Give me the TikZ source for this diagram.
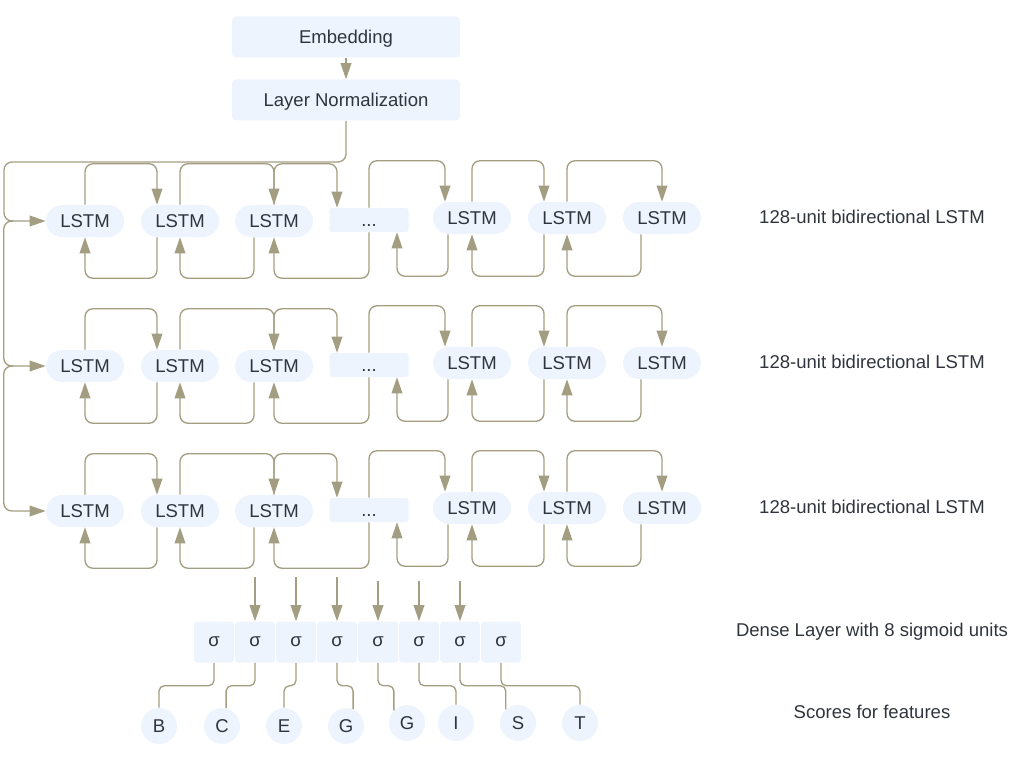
\documentclass[tikz,border=0pt]{standalone}
\usepackage{fontspec}
\setmainfont{Liberation Sans}
\usetikzlibrary{arrows.meta,
	calc}
\definecolor{boxfill}{HTML}{EEF4FE}
\definecolor{wire}{HTML}{A39E82}
\definecolor{ink}{HTML}{30343C}

\begin{document}
\begin{tikzpicture}[x=0.75pt,y=-0.75pt]
    \tikzstyle{txt}=[inner sep=0pt,text=ink,font=\fontsize{13.9pt}{16pt}\selectfont,text height=10pt,text depth=0pt]
    \tikzstyle{layer}=[txt,fill=boxfill,rounded corners=3pt,minimum width=171pt,minimum height=30.75pt]
    \tikzstyle{lstm}=[txt,fill=boxfill,rounded corners=12pt,minimum width=58.5pt,minimum height=24pt]
    \tikzstyle{gapbox}=[txt,fill=boxfill,rounded corners=2pt,minimum width=59.25pt,minimum height=18pt]
    \tikzstyle{sigbox}=[txt,fill=boxfill,rounded corners=2.5pt,minimum width=30pt,minimum height=30.75pt,text height=7.2pt]
    \tikzstyle{score}=[txt,circle,fill=boxfill,minimum size=27pt]
    \tikzstyle{flow}=[draw=wire,line width=1pt,rounded corners=6pt,-{Triangle[length=12pt,width=8pt]}]
    \tikzstyle{link}=[draw=wire,line width=1pt,rounded corners=4pt]
    \useasboundingbox (0,0) rectangle (1018,774);

    \node[layer] (embed) at (346,37) {Embedding};
    \node[layer] (norm) at (346,100) {Layer Normalization};
    \draw[flow] (embed) -- (norm);

    % three bidirectional layers
    \foreach \r/\y in {1/0,2/145,3/290} {
      \node[lstm] (lstm_\r_1) at (85,221+\y) {LSTM};
      \node[lstm] (lstm_\r_2) at (180,221+\y) {LSTM};
      \node[lstm] (lstm_\r_3) at (274,221+\y) {LSTM};
      \node[gapbox] (dots_\r) at (369,220+\y) {...};
      \node[lstm] (lstm_\r_5) at (472,218+\y) {LSTM};
      \node[lstm] (lstm_\r_6) at (567,218+\y) {LSTM};
      \node[lstm] (lstm_\r_7) at (662,218+\y) {LSTM};
      \node[txt] (caption_\r) at (872,217+\y) {128-unit bidirectional LSTM};
      % forward
      \draw[flow] (lstm_\r_1.north) -- ++(0,-41) -| ($(lstm_\r_2.north)+(-23,0)$);
      \draw[flow] (lstm_\r_2.north) -- ++(0,-41) -| (lstm_\r_3.north);
      \draw[flow] (lstm_\r_3.north) -- ++(0,-41) -| ($(dots_\r.north)+(-32,0)$);
      \draw[flow] (dots_\r.north) -- ++(0,-47) -| ($(lstm_\r_5.north)+(-27,0)$);
      \draw[flow] (lstm_\r_5.north) -- ++(0,-41) -| ($(lstm_\r_6.north)+(-23,0)$);
      \draw[flow] (lstm_\r_6.north) -- ++(0,-41) -| (lstm_\r_7.north);
      % backward
      \draw[flow] ($(lstm_\r_2.south)+(-23,0)$) -- ++(0,41) -| (lstm_\r_1.south);
      \draw[flow] ($(lstm_\r_3.south)+(-20,0)$) -- ++(0,41) -| (lstm_\r_2.south);
      \draw[flow] (dots_\r.south) -- ++(0,46) -| (lstm_\r_3.south);
      \draw[flow] ($(lstm_\r_5.south)+(-24,0)$) -- ++(0,42) -| ($(dots_\r.south)+(28,0)$);
      \draw[flow] ($(lstm_\r_6.south)+(-23,0)$) -- ++(0,42) -| (lstm_\r_5.south);
      \draw[flow] ($(lstm_\r_7.south)+(-21,0)$) -- ++(0,42) -| (lstm_\r_6.south);
    }

    % inputs of the layers
    \draw[flow] (norm.south) |- (4,162) |- (lstm_1_1.west);
    \coordinate (tap_1) at ($(lstm_1_1.west)+(-32,0)$);
    \coordinate (tap_2) at ($(lstm_2_1.west)+(-32,0)$);
    \draw[flow] (tap_1) -- ++(-10,0) |- (lstm_2_1.west);
    \draw[flow] (tap_2) -- ++(-10,0) |- (lstm_3_1.west);

    % dense layer
    \foreach \k in {1,...,8}
      \node[sigbox] (sig_\k) at (173+41*\k,642) {σ};
    \node[txt] (dense) at (872,630) {Dense Layer with 8 sigmoid units};
    \foreach \k/\t in {2/577,3/577,4/577,5/581,6/581,7/581} {
      \coordinate (feed_\k) at (173+41*\k,\t);
      \draw[flow] (feed_\k) -- (sig_\k);
    }

    % scores
    \node[score] (score_1) at (159,726) {B};
    \node[score] (score_2) at (222,726) {C};
    \node[score] (score_3) at (284,726) {E};
    \node[score] (score_4) at (346,726) {G};
    \node[score] (score_5) at (407,723) {G};
    \node[score] (score_6) at (456,723) {I};
    \node[score] (score_7) at (518,723) {S};
    \node[score] (score_8) at (580,723) {T};
    \node[txt] (scores) at (872,712) {Scores for features};
    \foreach \k/\a in {1/90,2/77,3/90,4/67,5/136,6/90,7/132,8/90}
      \draw[link] (sig_\k.south) -- ++(0,23) -| (score_\k.\a);
\end{tikzpicture}
\end{document}
